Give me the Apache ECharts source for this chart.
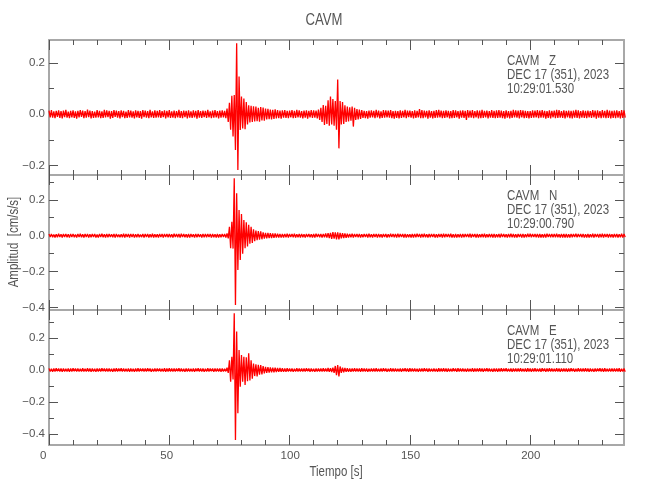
<!DOCTYPE html>
<html><head><meta charset="utf-8">
<script src="https://cdn.jsdelivr.net/npm/echarts@6/dist/echarts.min.js"></script>
<style>html,body{margin:0;padding:0;background:#fff}#chart{width:650px;height:500px}</style>
</head><body><div id="chart"></div>
<script>
// ---- data ----
const sampleStep = 0.5;      // seconds between samples
const unit = 0.001;          // trace values are in 1e-3 cm/s/s
const station = 'CAVM';
const components = ['Z', 'N', 'E'];
const dateLabel = 'DEC 17 (351), 2023';
const startTimes = ['10:29:01.530', '10:29:00.790', '10:29:01.110'];
const xLabelName = 'Tiempo [s]';
const yLabelName = 'Amplitud  [cm/s/s]';

const zTrace = [
14,-12,16,-13,11,-15,13,-10,15,-14, 12,-16,14,-11,17,-13,10,-15,13,-12,
15,-14,11,-17,13,-12,16,-10,14,-15, 12,-13,18,-11,14,-16,12,-14,10,-13,
16,-12,13,-15,11,-14,17,-12,15,-11, 13,-17,12,-14,16,-10,14,-13,12,-16,
15,-11,13,-15,10,-14,16,-12,14,-13, 11,-16,15,-12,13,-14,12,-17,16,-11,
14,-13,12,-15,17,-12,11,-14,15,-13, 13,-12,16,-14,12,-11,15,-16,13,-12,
16,-14,11,-13,14,-15,12,-12,17,-14, 12,-15,14,-11,13,-16,15,-13,11,-14,
15,-12,13,-17,16,-13,12,-14,14,-11, 13,-14,17,-12,11,-15,14,-13,16,-12,
12,-16,14,-13,15,-12,13,-15,22,-30, 45,-60,72,-87,75,-139,277,-217,147,-61,
69,-55,62,-58,48,-40,35,-32,33,-30, 31,-28,30,-27,25,-29,28,-24,26,-25,
22,-20,21,-19,18,-20,17,-18,19,-16, 16,-15,14,-17,15,-13,16,-14,13,-15,
14,-12,16,-15,13,-14,17,-12,15,-13, 12,-16,14,-13,15,-17,13,-12,16,-14,
15,-13,14,-16,18,-22,25,-30,36,-42, 33,-38,55,-45,69,-40,60,-45,52,-60,
136,-133,52,-40,48,-38,35,-30,30,-28, 27,-25,30,-48,25,-22,20,-20,18,-18,
16,-14,13,-15,12,-17,14,-13,15,-12, 13,-15,17,-12,14,-16,11,-14,16,-13,
15,-12,14,-13,16,-15,12,-17,13,-14, 12,-16,15,-14,13,-12,17,-15,14,-11,
14,-13,12,-16,15,-14,13,-12,20,-15, 16,-15,14,-12,13,-17,15,-13,12,-16,
13,-14,16,-13,17,-12,14,-15,13,-14, 15,-12,13,-16,12,-15,16,-14,15,-12,
12,-17,14,-13,15,-14,13,-22,16,-13, 14,-13,16,-15,12,-12,15,-16,14,-15,
17,-14,13,-12,14,-16,12,-13,16,-14, 13,-15,15,-14,16,-13,14,-15,12,-17,
15,-13,12,-16,13,-14,17,-12,15,-13, 14,-16,16,-12,15,-15,13,-14,12,-16,
12,-14,15,-13,14,-12,16,-15,14,-13, 16,-13,13,-17,12,-14,15,-16,13,-12,
14,-15,17,-14,16,-13,12,-14,15,-16, 13,-12,14,-15,13,-16,14,-13,17,-14,
15,-16,12,-13,15,-14,13,-15,14,-12, 12,-14,16,-12,14,-17,15,-13,12,-15,
16,-13,13,-15,17,-14,14,-16,13,-14, 14,-15,15,-13,12,-16,16,-14,15,-13
];

const nTrace = [
9,-8,10,-9,7,-10,8,-9,11,-8, 8,-10,9,-7,10,-9,8,-11,9,-8,
10,-9,7,-10,9,-8,11,-9,8,-10, 9,-8,10,-11,8,-9,10,-8,9,-10,
7,-10,9,-8,11,-9,8,-10,10,-9, 10,-8,8,-9,9,-11,10,-8,7,-9,
8,-9,11,-10,9,-8,9,-10,10,-8, 9,-11,8,-9,10,-9,7,-8,9,-10,
10,-8,9,-10,8,-9,11,-10,8,-9, 8,-10,10,-8,9,-11,9,-8,10,-9,
9,-9,8,-10,11,-8,10,-9,9,-10, 11,-8,9,-9,8,-10,9,-11,10,-8,
8,-10,10,-9,9,-8,8,-10,9,-9, 10,-9,9,-8,10,-11,9,-9,8,-10,
9,-10,8,-9,10,-8,9,-11,12,-15, 50,-70,78,-72,320,-386,236,-191,143,-135,
120,-100,87,-70,75,-60,60,-45,50,-40, 35,-30,28,-25,25,-22,24,-20,18,-17,
16,-15,15,-14,14,-13,13,-12,12,-11, 11,-10,10,-11,9,-10,10,-9,11,-10,
9,-8,10,-9,11,-10,8,-9,9,-10, 10,-9,8,-11,9,-8,10,-9,8,-10,
9,-10,11,-8,10,-9,9,-11,10,-9, 12,-11,14,-13,16,-18,20,-17,19,-21,
18,-20,16,-15,14,-13,12,-12,11,-10, 10,-9,11,-10,9,-8,10,-9,9,-10,
8,-9,10,-8,9,-10,11,-9,8,-10, 10,-8,9,-11,10,-9,8,-10,9,-8,
9,-10,8,-9,11,-8,10,-9,10,-11, 11,-9,10,-8,9,-10,9,-11,8,-9,
8,-10,9,-10,10,-9,11,-8,9,-10, 10,-9,11,-9,8,-10,9,-9,10,-8,
9,-11,8,-10,10,-8,9,-10,11,-9, 10,-8,9,-9,11,-10,8,-11,9,-10,
8,-9,10,-11,9,-9,10,-8,10,-9, 11,-10,9,-8,10,-11,9,-10,8,-9,
9,-9,11,-10,8,-9,10,-9,9,-11, 10,-11,8,-9,9,-10,11,-8,10,-9,
8,-10,10,-9,11,-9,9,-10,8,-10, 9,-8,9,-11,10,-10,8,-9,11,-8,
11,-9,10,-8,9,-9,10,-11,9,-10, 8,-10,9,-10,11,-8,9,-9,10,-9,
10,-9,11,-9,8,-10,10,-10,9,-11, 9,-11,8,-10,10,-9,9,-8,11,-9,
10,-8,10,-9,9,-11,8,-10,9,-10, 8,-9,11,-10,10,-8,9,-11,10,-9,
11,-10,9,-8,9,-10,10,-9,8,-10, 9,-9,10,-11,8,-9,11,-10,9,-8
];

const eTrace = [
10,-9,8,-11,9,-10,11,-8,9,-10, 9,-11,10,-9,8,-10,9,-11,10,-9,
11,-8,9,-10,10,-9,8,-10,11,-10, 8,-10,11,-9,9,-11,10,-9,8,-11,
10,-9,9,-10,11,-8,9,-10,10,-9, 9,-10,8,-11,10,-9,11,-10,9,-8,
11,-9,10,-9,8,-10,9,-11,10,-10, 8,-11,9,-10,11,-9,10,-8,9,-10,
10,-10,11,-8,9,-11,8,-10,10,-9, 9,-8,10,-10,8,-9,11,-11,9,-10,
11,-10,9,-9,10,-10,9,-8,11,-9, 10,-9,8,-11,9,-10,10,-9,8,-10,
9,-11,10,-8,11,-9,9,-10,10,-11, 8,-10,11,-10,9,-8,10,-11,9,-9,
10,-9,9,-11,10,-10,8,-9,14,-18, 60,-73,83,-60,354,-437,240,-270,125,-104,
94,-73,83,-94,80,-70,104,-65,60,-55, 40,-38,35,-40,32,-30,30,-28,25,-22,
20,-18,18,-16,16,-15,15,-14,14,-13, 13,-12,12,-11,11,-12,10,-11,11,-10,
9,-10,10,-11,8,-9,11,-10,9,-10, 10,-9,9,-10,11,-8,9,-11,10,-9,
8,-11,10,-9,9,-10,10,-9,11,-10, 10,-9,12,-11,11,-13,15,-18,25,-33,
30,-40,22,-18,15,-14,13,-12,11,-12, 10,-11,9,-10,11,-9,10,-10,9,-11,
11,-10,9,-9,10,-11,8,-10,9,-10, 9,-9,11,-10,8,-10,10,-9,11,-8,
10,-11,8,-9,11,-9,9,-10,10,-10, 8,-10,10,-11,9,-8,11,-9,9,-11,
11,-9,9,-10,10,-10,8,-11,10,-9, 9,-10,11,-8,9,-11,10,-10,8,-9,
10,-9,8,-11,11,-9,9,-10,11,-10, 9,-11,10,-9,8,-10,11,-8,9,-11,
11,-10,9,-10,10,-9,8,-11,10,-9, 8,-9,11,-11,9,-10,10,-9,11,-10,
10,-11,9,-8,11,-10,9,-10,8,-11, 9,-10,10,-11,10,-9,11,-9,10,-8,
11,-9,8,-10,9,-11,10,-10,9,-10, 10,-10,11,-9,8,-9,9,-11,11,-9,
9,-11,10,-10,11,-10,8,-9,10,-11, 11,-8,9,-11,10,-9,11,-10,9,-10,
8,-10,11,-9,9,-11,10,-9,10,-9, 10,-11,9,-10,11,-8,9,-11,8,-10,
11,-9,10,-9,10,-10,11,-9,9,-11, 9,-10,8,-11,9,-10,10,-8,11,-10,
10,-11,11,-9,8,-9,9,-10,10,-9, 9,-9,10,-10,11,-11,8,-10,9,-11
];

const xRange = [0, 239];
const xMajorTicks = [0, 50, 100, 150, 200];
const xMinorTicks = [10,20,30,40,60,70,80,90,110,120,130,140,160,170,180,190,210,220,230];
const yRanges = [[-0.237, 0.29], [-0.414, 0.338], [-0.469, 0.375]];
const yMajorTicks = [[-0.2, 0, 0.2], [-0.4, -0.2, 0, 0.2], [-0.4, -0.2, 0, 0.2]];
const yMinorTicks = [[-0.1, 0.1], [-0.3, -0.1, 0.1, 0.3], [-0.3, -0.1, 0.1, 0.3]];

// ---- chart ----
const traces = [zTrace, nTrace, eTrace];
const FONT = "'Liberation Sans', Arial, sans-serif";
const TXT = '#555';
const NARROW = 0.82;
const panelTops = [40, 175, 310];
const panelH = 135, gridLeft = 49, gridRight = 26;
const lineStyleAxis = { color: '#a8a8a8', width: 2 };
const tickStyle = { color: '#555', width: 1 };

const grids = [], xAxes = [], yAxes = [], series = [], graphics = [];

function xAxis(i, pos, ticks, len, withLine, withLabels) {
  return {
    type: 'value', gridIndex: i, position: pos, min: xRange[0], max: xRange[1],
    axisLine: { show: withLine, onZero: false, lineStyle: lineStyleAxis },
    axisTick: { show: true, inside: true, length: len, customValues: ticks, lineStyle: tickStyle },
    axisLabel: withLabels ? {
      show: true, customValues: ticks, margin: 5,
      formatter: v => '{a|' + v + '}',
      rich: { a: { width: 18, align: 'left', fontFamily: FONT, fontSize: 11.5, color: TXT } }
    } : { show: false },
    splitLine: { show: false }
  };
}
function yAxis(i, pos, ticks, len, withLine, withLabels) {
  return {
    type: 'value', gridIndex: i, position: pos, min: yRanges[i][0], max: yRanges[i][1],
    axisLine: { show: withLine, onZero: false, lineStyle: lineStyleAxis },
    axisTick: { show: true, inside: true, length: len, customValues: ticks, lineStyle: tickStyle },
    axisLabel: withLabels ? {
      show: true, customValues: ticks, margin: 4, fontFamily: FONT, fontSize: 11.5, color: TXT,
      formatter: v => (v < -1e-9 ? '\u2212' : '') + Math.abs(v).toFixed(1)
    } : { show: false },
    splitLine: { show: false }
  };
}
function narrowText(text, x, y, size, extra) {
  return Object.assign({
    type: 'text', x: x, y: y, scaleX: NARROW, silent: true,
    style: { text: text, fontFamily: FONT, fontSize: size, fill: TXT, align: 'left', verticalAlign: 'middle' }
  }, extra || {});
}

for (let i = 0; i < 3; i++) {
  grids.push({ left: gridLeft, right: gridRight, top: panelTops[i], height: panelH, outerBoundsMode: 'none', containLabel: false });
  xAxes.push(xAxis(i, 'bottom', xMajorTicks, 10, true, i === 2));
  xAxes.push(xAxis(i, 'bottom', xMinorTicks, 5, false, false));
  xAxes.push(xAxis(i, 'top', xMajorTicks, 10, true, false));
  xAxes.push(xAxis(i, 'top', xMinorTicks, 5, false, false));
  yAxes.push(yAxis(i, 'left', yMajorTicks[i], 9, true, true));
  yAxes.push(yAxis(i, 'left', yMinorTicks[i], 5, false, false));
  yAxes.push(yAxis(i, 'right', yMajorTicks[i], 9, true, false));
  yAxes.push(yAxis(i, 'right', yMinorTicks[i], 5, false, false));
  series.push({
    type: 'line', xAxisIndex: 4 * i, yAxisIndex: 4 * i,
    data: traces[i].map((v, k) => [k * sampleStep, v * unit]),
    showSymbol: false, symbol: 'none', silent: true, clip: true,
    lineStyle: { color: '#ff0000', width: 1.3 }
  });
  const lines = [station + '   ' + components[i], dateLabel, startTimes[i]];
  const offs = [21.5, 35.5, 49.5];
  lines.forEach((t, j) => graphics.push(narrowText(t, 507, panelTops[i] + offs[j], 14)));
}
// title
graphics.push(narrowText(station, 324, 21, 16, { style: { text: station, fontFamily: FONT, fontSize: 16, fill: TXT, align: 'center', verticalAlign: 'middle' } }));
// axis names
graphics.push(narrowText(yLabelName, 14, 242, 14, { rotation: Math.PI / 2, style: { text: yLabelName, fontFamily: FONT, fontSize: 14, fill: TXT, align: 'center', verticalAlign: 'middle' } }));
graphics.push(narrowText(xLabelName, 336, 472, 14, { style: { text: xLabelName, fontFamily: FONT, fontSize: 14, fill: TXT, align: 'center', verticalAlign: 'middle' } }));

const chart = echarts.init(document.getElementById('chart'), null, { renderer: 'canvas' });
chart.setOption({
  backgroundColor: '#fff',
  animation: false,
  grid: grids, xAxis: xAxes, yAxis: yAxes, series: series, graphic: graphics
});
</script></body></html>
